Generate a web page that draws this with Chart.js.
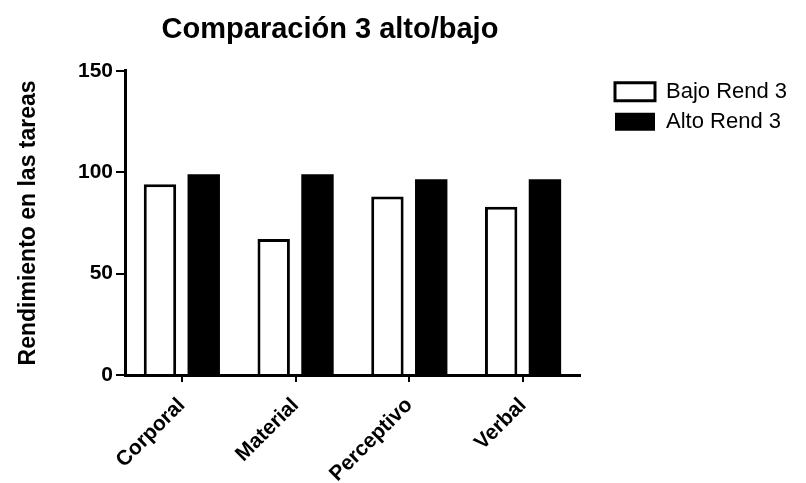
<!DOCTYPE html>
<html>
<head>
<meta charset="utf-8">
<script src="https://cdn.jsdelivr.net/npm/chart.js@4.4.1/dist/chart.umd.min.js"></script>
<style>
  html, body { margin: 0; padding: 0; background: #fff; }
  #wrap { width: 806px; height: 483px; }
</style>
</head>
<body>
<div id="wrap"><canvas id="chart"></canvas></div>
<script>
// Data
const categories = ['Corporal', 'Material', 'Perceptivo', 'Verbal'];
const bajoRend = [94, 67, 88, 83];
const altoRend = [99, 99, 96.5, 96.5];
const yTicks = [0, 50, 100, 150];

const FONT = "'Liberation Sans', Arial, Helvetica, sans-serif";

// Nudge title and legend into the spots they have in the original
const placeBlocks = {
    id: 'placeBlocks',
    afterLayout(chart) {
        if (chart.titleBlock) {
            chart.titleBlock.left = 0;
            chart.titleBlock.right = 660;
        }
        const lg = chart.legend;
        if (lg) {
            const w = lg.right - lg.left;
            lg.left = 607;
            lg.right = 607 + w;
            lg.top += 2;
            lg.bottom += 2;
        }
    }
};

Chart.defaults.font.family = FONT;
Chart.defaults.color = '#000';

const ctx = document.getElementById('chart').getContext('2d');
const chart = new Chart(ctx, {
    type: 'bar',
    data: {
        labels: categories,
        datasets: [{
            label: 'Bajo Rend 3',
            data: bajoRend,
            backgroundColor: '#ffffff',
            borderColor: '#000000',
            borderWidth: 3,
            categoryPercentage: 0.77,
            barPercentage: 0.74
        }, {
            label: 'Alto Rend 3',
            data: altoRend,
            backgroundColor: '#000000',
            borderColor: '#000000',
            borderWidth: 0,
            categoryPercentage: 0.77,
            barPercentage: 0.74
        }]
    },
    options: {
        responsive: true,
        maintainAspectRatio: false,
        animation: false,
        layout: {
            padding: { right: 36 }
        },
        plugins: {
            title: {
                display: true,
                text: 'Comparación 3 alto/bajo',
                font: { size: 29, weight: 'bold' },
                color: '#000',
                padding: { top: 13, bottom: 23 }
            },
            legend: {
                position: 'right',
                align: 'start',
                fullSize: false,
                labels: {
                    boxWidth: 40,
                    boxHeight: 18,
                    padding: 8,
                    font: { size: 22 },
                    color: '#000'
                }
            },
            tooltip: { enabled: false }
        },
        scales: {
            x: {
                grid: {
                    display: true,
                    drawOnChartArea: false,
                    offset: false,
                    tickLength: 7,
                    color: '#000',
                    lineWidth: 2
                },
                border: { color: '#000', width: 3 },
                ticks: {
                    font: { size: 21, weight: 'bold' },
                    color: '#000',
                    minRotation: 45,
                    maxRotation: 45,
                    padding: 11
                },
                afterFit(scale) { scale.height = 108; }
            },
            y: {
                min: 0,
                max: 150,
                afterBuildTicks(scale) {
                    scale.ticks = yTicks.map(v => ({ value: v }));
                },
                grid: {
                    display: true,
                    drawOnChartArea: false,
                    tickLength: 9,
                    color: '#000',
                    lineWidth: 2
                },
                border: { color: '#000', width: 3 },
                ticks: {
                    font: { size: 21, weight: 'bold' },
                    color: '#000',
                    padding: 3
                },
                title: {
                    display: true,
                    text: 'Rendimiento en las tareas',
                    font: { size: 23, weight: 'bold' },
                    color: '#000',
                    padding: { top: 15, bottom: 0 }
                },
                afterFit(scale) { scale.width = 125; }
            }
        }
    },
    plugins: [placeBlocks]
});
</script>
</body>
</html>
